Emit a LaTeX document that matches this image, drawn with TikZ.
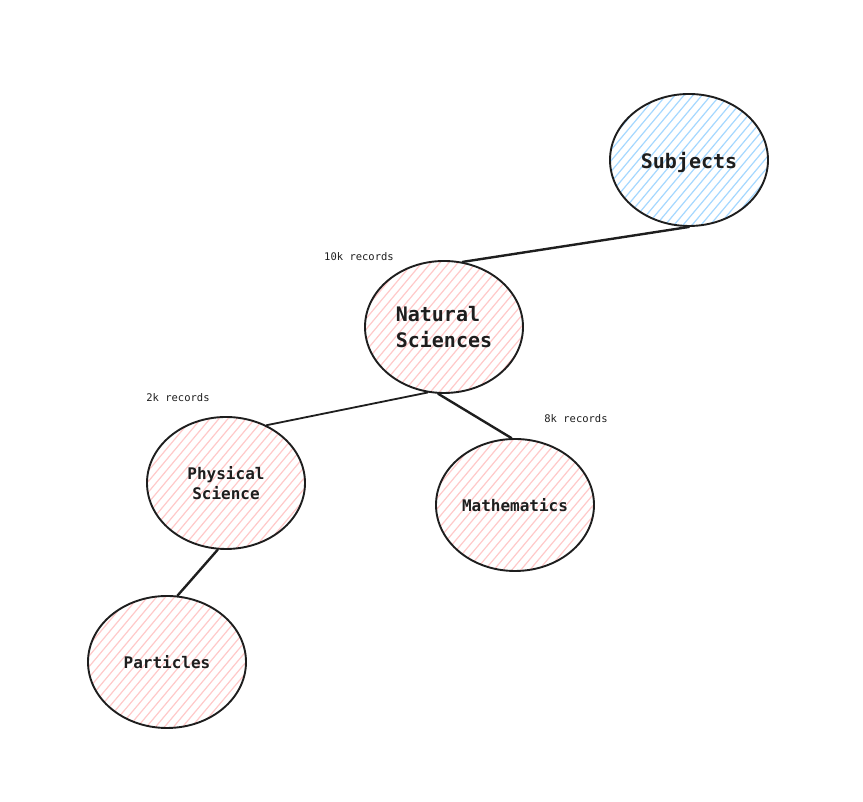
\documentclass[tikz,border=0pt]{standalone}
\usepackage{fontspec}
\newfontfamily\monofam{DejaVu Sans Mono}
\usetikzlibrary{shapes.geometric}
\definecolor{ink}{HTML}{1E1E1E}
\definecolor{hblue}{HTML}{A5D8FF}
\definecolor{hpink}{HTML}{FFC9C9}
\tikzset{
  bubble/.style={ellipse, draw=ink, line width=1.9pt, minimum width=158pt, minimum height=132pt, inner sep=0pt, text=ink,
    path picture={\begin{scope}[shift={(path picture bounding box.center)}]
      \foreach \k in {-20,...,20}{\draw[#1, line width=1.2pt] (\k*9pt,0pt) +(230:170pt) -- +(50:170pt);}
    \end{scope}}},
  big/.style={font=\monofam\bfseries\fontsize{20}{26}\selectfont},
  mid/.style={font=\monofam\bfseries\fontsize{16}{19.5}\selectfont},
  rec/.style={font=\monofam\fontsize{10.5}{12}\selectfont, text=ink, inner sep=0pt},
  link/.style={draw=ink, line width=2.4pt, line cap=round},
  thinlink/.style={draw=ink, line width=1.8pt, line cap=round}
}
\begin{document}
\begin{tikzpicture}[x=1pt,y=1pt]
\useasboundingbox[fill=white] (0,0) rectangle (863,802);
\node[bubble=hblue, big, text depth=0pt] (subj) at (689,642) {Subjects};
\node[bubble=hpink, big, align=left] (nat) at (444,475) {Natural\\Sciences};
\node[bubble=hpink, mid, align=center] (phys) at (226,319) {Physical\\Science};
\node[bubble=hpink, mid] (math) at (515,297) {Mathematics};
\node[bubble=hpink, mid] (part) at (167,140) {Particles};
\node[rec] (r10) at (359,545) {10k records};
\node[rec] (r2) at (178,404) {2k records};
\node[rec] (r8) at (576,383) {8k records};
\draw[link] (subj.270) -- (nat.74);
\draw[thinlink] (nat.256) -- (phys.55);
\draw[link] (nat.265) -- (math.93);
\draw[link] (phys.263) -- (part.81);
\end{tikzpicture}
\end{document}
